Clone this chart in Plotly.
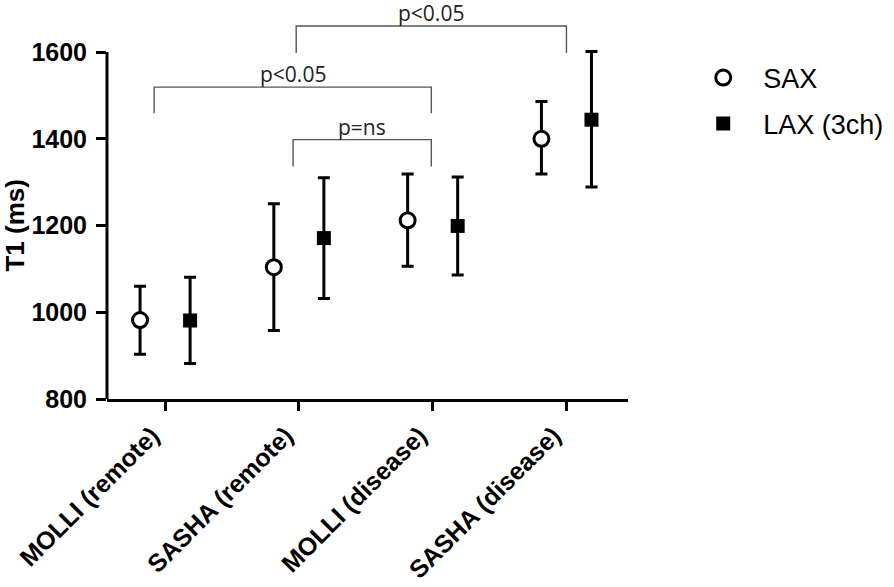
import plotly.graph_objects as go

# ---- data ----
categories = ["MOLLI (remote)", "SASHA (remote)", "MOLLI (disease)", "SASHA (disease)"]
sax_mean = [982, 1104, 1212, 1400]
sax_upper = [1060, 1250, 1319, 1486]
sax_lower = [903, 958, 1106, 1319]
lax_mean = [981, 1171, 1199, 1444]
lax_upper = [1081, 1310, 1312, 1601]
lax_lower = [882, 1032, 1086, 1289]
y_ticks = [800, 1000, 1200, 1400, 1600]

# significance brackets: label, left, right (category units), top, leg-bottom (ms)
bracket_labels = ["p<0.05", "p<0.05", "p=ns"]
bracket_left = [0.98, -0.082, 0.957]
bracket_right = [3.0, 1.99, 1.99]
bracket_top = [1660, 1519, 1398]
bracket_bottom = [1598, 1459, 1336]

offset = 0.187
idx = list(range(len(categories)))
x_sax = [i - offset for i in idx]
x_lax = [i + offset for i in idx]

fig = go.Figure()
fig.add_trace(go.Scatter(
    x=x_sax, y=sax_mean, mode="markers", name="SAX", legendgroup="sax",
    marker=dict(symbol="circle", size=15, color="white", line=dict(color="black", width=3)),
    error_y=dict(type="data", symmetric=False,
                 array=[u - m for u, m in zip(sax_upper, sax_mean)],
                 arrayminus=[m - l for m, l in zip(sax_mean, sax_lower)],
                 color="black", thickness=3, width=6),
))
fig.add_trace(go.Scatter(
    x=x_lax, y=lax_mean, mode="markers", name="LAX (3ch)", legendgroup="lax",
    marker=dict(symbol="square", size=14, color="black", line=dict(color="black", width=0)),
    error_y=dict(type="data", symmetric=False,
                 array=[u - m for u, m in zip(lax_upper, lax_mean)],
                 arrayminus=[m - l for m, l in zip(lax_mean, lax_lower)],
                 color="black", thickness=3, width=6),
))

# brackets
for lab, x0, x1, yt, yb in zip(bracket_labels, bracket_left, bracket_right, bracket_top, bracket_bottom):
    fig.add_shape(type="path", xref="x", yref="y",
                  path=f"M {x0},{yb} L {x0},{yt} L {x1},{yt} L {x1},{yb}",
                  line=dict(color="#555555", width=1.4), layer="above")
    fig.add_annotation(x=(x0 + x1) / 2, y=yt, yref="y", xref="x", text=lab,
                       showarrow=False, yanchor="bottom", yshift=-3,
                       font=dict(family="Open Sans", size=21, color="#222222"))

# y axis line (only 800..1600)
fig.add_shape(type="line", xref="paper", yref="y", x0=0, x1=0, y0=y_ticks[0], y1=y_ticks[-1],
              line=dict(color="black", width=3))

# y axis title centred on the drawn axis line
fig.add_annotation(xref="paper", yref="y", x=-0.1766, y=(y_ticks[0] + y_ticks[-1]) / 2,
                   text="T1 (ms)", textangle=-90, showarrow=False,
                   xanchor="center", yanchor="middle",
                   font=dict(family="Liberation Sans, Arial", size=26, color="black", weight="bold"))

fig.update_layout(
    width=894, height=587,
    margin=dict(l=107, r=266, t=0, b=188),
    plot_bgcolor="white", paper_bgcolor="white",
    showlegend=True,
    legend=dict(x=1.106, y=0.866, xanchor="left", yanchor="top",
                font=dict(family="Liberation Sans, Arial", size=27, color="black"),
                itemwidth=70, tracegroupgap=8, bgcolor="rgba(0,0,0,0)"),
    xaxis=dict(range=[-0.434, 3.46], tickvals=idx, ticktext=categories, tickangle=-45,
               showline=True, linecolor="black", linewidth=3,
               ticks="outside", ticklen=9, tickwidth=3, tickcolor="black",
               showgrid=False, zeroline=False, ticklabelshift=-13,
               tickfont=dict(family="Liberation Sans, Arial", size=25, color="black", weight="bold")),
    yaxis=dict(range=[800, 1720], tickvals=y_ticks,
               showline=False, ticks="outside", ticklen=10, tickwidth=3, tickcolor="black",
               showgrid=False, zeroline=False, ticklabelstandoff=4,
               tickfont=dict(family="Liberation Sans, Arial", size=25, color="black", weight="bold")),
)

fig.write_html("out.html", config={"displayModeBar": False},
               post_script="document.body.style.margin='0px';")
